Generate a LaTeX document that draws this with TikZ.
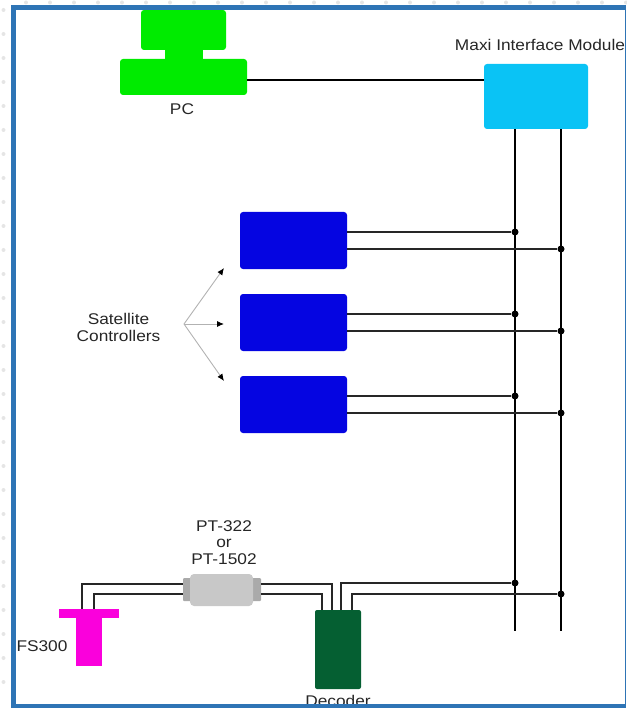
\documentclass[tikz,border=0pt]{standalone}
\usepackage{fontspec}
\setmainfont[FakeStretch=1.115]{Liberation Sans}
\usetikzlibrary{positioning, arrows.meta}

\begin{document}
\begin{tikzpicture}[x=1pt,y=-1pt,
    box/.style={rectangle, rounded corners=3pt, inner sep=0pt},
    lbl/.style={text=black!85, font=\fontsize{15.5}{16.5}\selectfont, align=center, inner sep=0pt},
    wire/.style={black!85, line width=1.1pt},
    bus/.style={black, line width=1.8pt},
    dot/.style={circle, fill=black, minimum size=7pt, inner sep=0pt}]
    % Colours of the parts
    \definecolor{pcgreen}{RGB}{0,235,0}
    \definecolor{moduleblue}{RGB}{10,195,245}
    \definecolor{ctrlblue}{RGB}{5,5,225}
    \definecolor{fsmagenta}{RGB}{250,0,220}
    \definecolor{decgreen}{RGB}{5,95,50}
    \definecolor{filtergray}{RGB}{200,200,200}
    \definecolor{framecol}{RGB}{46,116,181}

    \useasboundingbox (0,0) rectangle (626,708);

    % Page dots outside the frame
    \foreach \n in {0,...,28} \fill[black!10] (3.5,10+24*\n) circle (2pt);
    \foreach \n in {0,...,25} \fill[black!10] (26+24*\n,2.5) circle (2pt);

    % PC
    \node[box, fill=pcgreen, minimum width=85pt, minimum height=40pt] (monitor) at (183.5,30) {};
    \node[box, rounded corners=0pt, fill=pcgreen, minimum width=38pt, minimum height=12pt] (neck) at (184,54) {};
    \node[box, fill=pcgreen, minimum width=127pt, minimum height=36pt] (pc) at (183.5,77) {};
    \node[lbl] (pclabel) at (182,109) {PC};

    % Interface module
    \node[box, fill=moduleblue, minimum width=104pt, minimum height=65pt] (module) at (536,96.5) {};
    \node[lbl] (modulelabel) at (540,45) {Maxi Interface Module};
    \draw[bus] (pc.east |- 0,80) -- (module.west |- 0,80);

    % Bus ends
    \coordinate (busa) at (515,631);
    \coordinate (busb) at (561,631);
    \draw[bus] (module.south -| busa) -- (busa);
    \draw[bus] (module.south -| busb) -- (busb);

    % Satellite controllers
    \foreach \n/\y in {1/240.5, 2/322.5, 3/404.5} {
        \node[box, fill=ctrlblue, minimum width=107pt, minimum height=57pt] (sc\n) at (293.5,\y) {};
        \node[dot] (ja\n) at (515,\y-8.5) {};
        \node[dot] (jb\n) at (561,\y+8.5) {};
        \draw[wire] (sc\n.east |- ja\n) -- (ja\n);
        \draw[wire] (sc\n.east |- jb\n) -- (jb\n);
    }
    \node[lbl] (satlabel) at (118.5,327.5) {Satellite\\Controllers};
    \coordinate (fork) at (184,324);
    \coordinate (tipa) at (224,268);
    \coordinate (tipb) at (224,324);
    \coordinate (tipc) at (224,381);
    \foreach \t in {tipa,tipb,tipc}
        \draw[black!30, line width=0.9pt, -{Latex[black,length=7pt,width=6pt]}] (fork) -- (\t);

    % FS300 sensor
    \node[box, rounded corners=0pt, fill=fsmagenta, minimum width=60pt, minimum height=9pt] (fsbar) at (89,613.5) {};
    \node[box, rounded corners=0pt, fill=fsmagenta, minimum width=26pt, minimum height=48pt] (fsstem) at (89,641.5) {};
    \node[lbl] (fslabel) at (42,646) {FS300};

    % Inline filter
    \node[box, rounded corners=1pt, fill=filtergray!85!black, minimum width=78pt, minimum height=23pt] (flange) at (222,589.5) {};
    \node[box, rounded corners=4pt, fill=filtergray, minimum width=63pt, minimum height=32pt] (filter) at (221.5,590) {};
    \node[lbl] (filterlabel) at (224,542.5) {PT-322\\or\\PT-1502};

    % Decoder
    \node[box, rounded corners=2pt, fill=decgreen, minimum width=46pt, minimum height=79pt] (decoder) at (338,649.5) {};
    \node[lbl] (decoderlabel) at (338,700.5) {Decoder};

    % Wires along the bottom
    \coordinate (fa) at (82,584);
    \coordinate (fb) at (94,594);
    \coordinate (da) at (332,584);
    \coordinate (db) at (322,594);
    \node[dot] (ja4) at (515,583) {};
    \node[dot] (jb4) at (561,594) {};
    \draw[wire] (fsbar.north -| fa) -- (fa) -- (flange.west |- fa);
    \draw[wire] (fsbar.north -| fb) -- (fb) -- (flange.west |- fb);
    \draw[wire] (flange.east |- da) -- (da) -- (decoder.north -| da);
    \draw[wire] (flange.east |- db) -- (db) -- (decoder.north -| db);
    \draw[wire] (decoder.north -| 341,0) |- (ja4);
    \draw[wire] (decoder.north -| 352,0) |- (jb4);

    % Frame
    \fill[white] (11,704) rectangle (626,708);
    \fill[framecol] (11,5) rectangle (626,10.5);
    \fill[framecol] (11,5) rectangle (16,708);
    \fill[framecol] (11,704) rectangle (626,708);
    \fill[framecol] (624.5,5) rectangle (626,708);
\end{tikzpicture}
\end{document}
